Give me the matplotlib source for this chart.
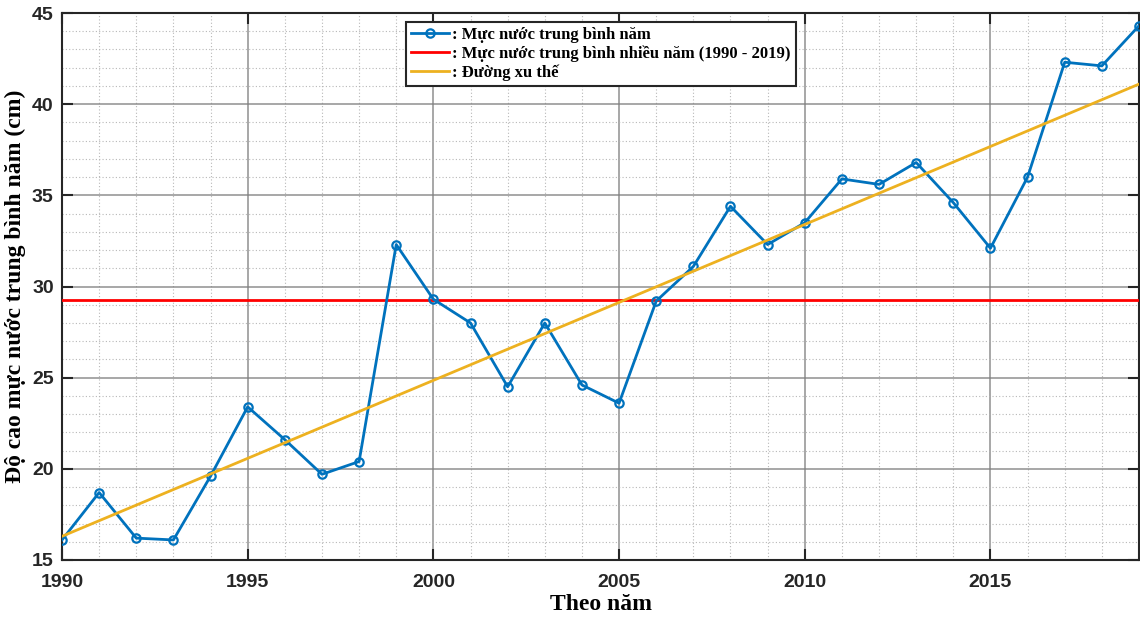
import numpy as np
import matplotlib
matplotlib.use("Agg")
import matplotlib.pyplot as plt
from matplotlib.ticker import MultipleLocator

# annual mean water level (cm)
years = list(range(1990, 2020))
levels = [16.1, 18.7, 16.2, 16.1, 19.6, 23.4, 21.6, 19.7, 20.4, 32.3,
          29.3, 28.0, 24.5, 28.0, 24.6, 23.6, 29.2, 31.1, 34.4, 32.3,
          33.5, 35.9, 35.6, 36.8, 34.6, 32.1, 36.0, 42.3, 42.1, 44.3]
long_term_mean = 29.25
trend_years = [1990, 2019]
trend_values = [16.3, 41.1]

legend_labels = [": Mực nước trung bình năm",
                 ": Mực nước trung bình nhiều năm (1990 - 2019)",
                 ": Đường xu thế"]

blue = "#0072BD"
gold = "#EDB120"

fig = plt.figure(figsize=(11.4, 6.2), dpi=100)
ax = fig.add_axes([62 / 1140, 60 / 620, 1077 / 1140, 547 / 620])

ax.plot(years, levels, color=blue, lw=2, marker="o", ms=6, mfc="none",
        mew=1.6, label=legend_labels[0], zorder=4)
ax.axhline(long_term_mean, color="#FF0000", lw=2, label=legend_labels[1], zorder=3)
ax.plot(trend_years, trend_values, color=gold, lw=2, label=legend_labels[2], zorder=5)

ax.set_xlim(1990, 2019)
ax.set_ylim(15, 45)
ax.xaxis.set_major_locator(MultipleLocator(5))
ax.xaxis.set_minor_locator(MultipleLocator(1))
ax.yaxis.set_major_locator(MultipleLocator(5))
ax.yaxis.set_minor_locator(MultipleLocator(1))

ax.grid(which="major", color="#7f7f7f", lw=1.2, alpha=0.8)
ax.grid(which="minor", color="#b0b0b0", lw=0.8, ls=(0, (1, 2)), alpha=0.9)
ax.set_axisbelow(True)

ax.tick_params(which="major", direction="in", length=8, width=1.5,
               top=True, right=True, colors="#262626", labelcolor="#262626")
ax.tick_params(which="minor", length=0)
for lbl in ax.get_xticklabels() + ax.get_yticklabels():
    lbl.set_fontfamily("Liberation Sans")
    lbl.set_fontweight("bold")
    lbl.set_fontsize(14)
ax.tick_params(axis="x", pad=10)
ax.tick_params(axis="y", pad=6)

for s in ax.spines.values():
    s.set_color("#262626")
    s.set_linewidth(1.5)

ax.set_xlabel("Theo năm", fontfamily="Liberation Serif", fontweight="bold",
              fontsize=17, labelpad=2)
ax.set_ylabel("Độ cao mực nước trung bình năm (cm)", fontfamily="Liberation Serif",
              fontweight="bold", fontsize=17, labelpad=4)

leg = ax.legend(loc="upper left", bbox_to_anchor=(0.319, 0.984),
                prop={"family": "Liberation Serif", "weight": "bold", "size": 12},
                frameon=True, fancybox=False, handlelength=2.3, handletextpad=0.2,
                borderpad=0.3, labelspacing=0.15, borderaxespad=0)
leg.get_frame().set_edgecolor("#262626")
leg.get_frame().set_linewidth(1.5)
leg.get_frame().set_alpha(1)

fig.savefig("out.png", dpi=100)
